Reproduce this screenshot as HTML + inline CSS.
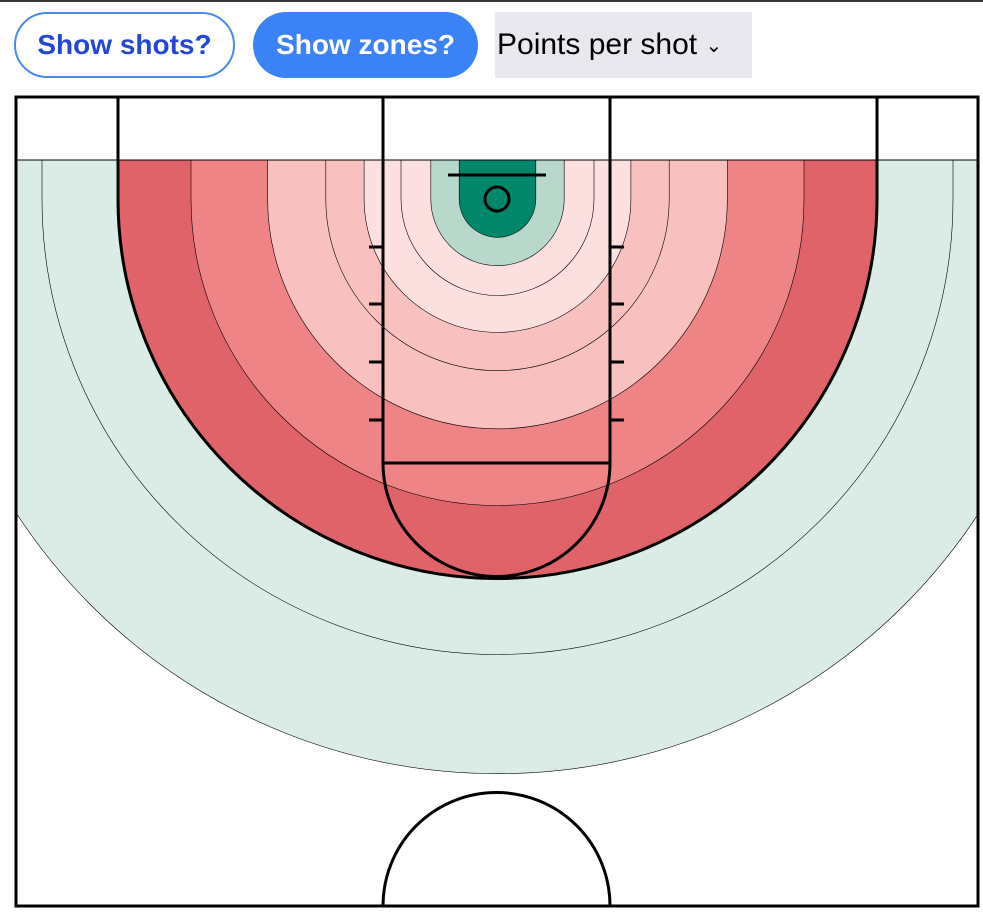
<!DOCTYPE html>
<html><head><meta charset="utf-8"><style>
body{margin:0;width:983px;height:912px;background:#fff;font-family:"Liberation Sans","DejaVu Sans",sans-serif;position:relative;overflow:hidden}
#topbar{position:absolute;left:0;top:0;width:983px;height:2px;background:#333}
.btn{position:absolute;top:12px;height:66px;border-radius:33px;box-sizing:border-box;font-weight:bold;font-size:28px;display:flex;align-items:center;justify-content:center;z-index:2}
#b1{left:14px;width:221px;border:2px solid #4a8af0;color:#2347d0;background:#fff}
#b2{left:253px;width:225px;background:#3b82f6;color:#fff}
#sel{position:absolute;left:495px;top:12px;width:257px;height:66px;background:#e8e8ee;font-size:30px;display:flex;align-items:center;padding-left:2px;box-sizing:border-box;color:#000;z-index:2}
svg{position:absolute;left:0;top:0}
</style></head><body>
<div id="topbar"></div>
<div class="btn" id="b1">Show shots?</div>
<div class="btn" id="b2">Show zones?</div>
<div id="sel">Points per shot&nbsp;<span style="font-size:20px">&#8964;</span></div>
<svg id="court" width="983" height="912">
<defs><clipPath id="cc"><rect x="16" y="160" width="962" height="746"/></clipPath></defs>
<g id="zones" clip-path="url(#cc)"></g>
<g id="lines" fill="none" stroke="#000" stroke-width="3"></g>
</svg>
<script>
// zone outer edges in feet from basket
const zoneEdges = [2.7, 4.7, 6.8, 9.4, 12.1, 16.2, 21.6, 26.75, 32.1, 40.5];
// points per shot by zone
const ppsValues = [1.5, 1.3, 0.95, 0.95, 0.85, 0.85, 0.75, 0.65, 1.1, 1.1];
const colorThresholds = [0.7, 0.8, 0.9, 1.0, 1.2, 1.4];
const colorPalette = ["#e0636a", "#ee8486", "#f8c1c0", "#fce0e0", "#dbebe5", "#b8d8cc", "#008769"];

const pxPerFt = 14.19, cx = 497.5, cy = 199, zoneTop = 160;
function rScale(ft){ return ft * pxPerFt; }
function color(v){ for(let i=0;i<colorThresholds.length;i++) if(v<colorThresholds[i]) return colorPalette[i]; return colorPalette[colorPalette.length-1]; }
const NS = "http://www.w3.org/2000/svg";
const zg = document.getElementById('zones');
for(let i=zoneEdges.length-1;i>=0;i--){
  const r = rScale(zoneEdges[i]);
  const p = document.createElementNS(NS,'path');
  p.setAttribute('d',`M${cx-r},${zoneTop} L${cx-r},${cy} A${r},${r} 0 0 0 ${cx+r},${cy} L${cx+r},${zoneTop} Z`);
  p.setAttribute('fill', color(ppsValues[i]));
  p.setAttribute('stroke','#000');
  p.setAttribute('stroke-width','0.6');
  
  
  zg.appendChild(p);
}
const lg = document.getElementById('lines');
function add(tag, attrs, name){
  const e = document.createElementNS(NS,tag);
  for(const k in attrs) e.setAttribute(k, attrs[k]);
  
  
  lg.appendChild(e);
}
add('line',{x1:16,y1:160,x2:978,y2:160,'stroke-width':1},'baseline-zone-edge');
add('rect',{x:16,y:97,width:962,height:809},'court-boundary');
add('rect',{x:383,y:97,width:227,height:366},'lane');
add('path',{d:'M383,463 A113.5,113.5 0 0 0 610,463'},'free-throw-circle');
add('path',{d:'M118,97 L118,199 A379.5,379.5 0 0 0 877,199 L877,97'},'three-point-line');
add('path',{d:'M383,906 A113.5,113.5 0 0 1 610,906'},'half-court-circle');
add('line',{x1:448,y1:175,x2:546,y2:175},'backboard');
add('circle',{cx:497,cy:199,r:12},'rim');
[247,304,362,420].forEach((y,i)=>{
  add('line',{x1:369,y1:y,x2:383,y2:y},'hash-left-'+i);
  add('line',{x1:610,y1:y,x2:624,y2:y},'hash-right-'+i);
});
</script>
</body></html>
